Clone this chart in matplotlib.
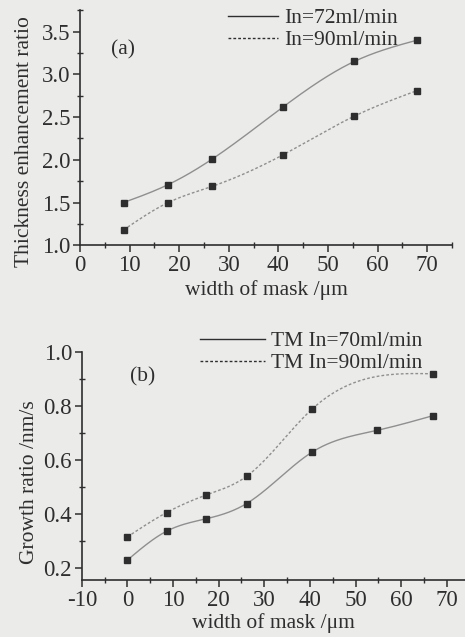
import numpy as np
import matplotlib
matplotlib.use('Agg')
import matplotlib.pyplot as plt
from matplotlib.lines import Line2D
from matplotlib.ticker import MultipleLocator, FormatStrFormatter

# panel (a): thickness enhancement ratio vs mask width
a_x = [8.8, 17.8, 26.7, 41.0, 55.3, 68.0]
a_72 = [1.50, 1.71, 2.01, 2.62, 3.15, 3.40]
a_90 = [1.18, 1.50, 1.69, 2.06, 2.51, 2.81]

# panel (b): growth ratio vs mask width
b_x70 = [0.0, 8.6, 17.3, 26.1, 40.4, 54.6, 67.0]
b_70 = [0.229, 0.336, 0.382, 0.438, 0.628, 0.709, 0.764]
b_x90 = [0.0, 8.6, 17.3, 26.1, 40.4, 67.0]
b_90 = [0.315, 0.405, 0.470, 0.539, 0.787, 0.919]

bg = '#ebebea'
ink = '#2e2e2e'
linec = '#8f8f8f'

plt.rcParams['font.family'] = ['Liberation Serif', 'DejaVu Serif']
plt.rcParams['font.size'] = 15.5
plt.rcParams['axes.unicode_minus'] = False
plt.rcParams['text.color'] = ink
plt.rcParams['axes.labelcolor'] = ink
plt.rcParams['xtick.color'] = ink
plt.rcParams['ytick.color'] = ink
plt.rcParams['xtick.labelsize'] = 16.5
plt.rcParams['ytick.labelsize'] = 16.5


def spline(x, y, n=200):
    # natural cubic spline through the measured points
    x = np.asarray(x, float)
    y = np.asarray(y, float)
    k = len(x)
    h = np.diff(x)
    A = np.zeros((k, k))
    r = np.zeros(k)
    A[0, 0] = A[-1, -1] = 1
    for i in range(1, k - 1):
        A[i, i - 1] = h[i - 1]
        A[i, i] = 2 * (h[i - 1] + h[i])
        A[i, i + 1] = h[i]
        r[i] = 6 * ((y[i + 1] - y[i]) / h[i] - (y[i] - y[i - 1]) / h[i - 1])
    m = np.linalg.solve(A, r)
    xs = np.linspace(x[0], x[-1], n)
    idx = np.clip(np.searchsorted(x, xs) - 1, 0, k - 2)
    t = xs - x[idx]
    hh = h[idx]
    a = (m[idx + 1] - m[idx]) / (6 * hh)
    b = m[idx] / 2
    c = (y[idx + 1] - y[idx]) / hh - hh * (2 * m[idx] + m[idx + 1]) / 6
    return xs, y[idx] + c * t + b * t ** 2 + a * t ** 3


def style(ax):
    ax.set_facecolor(bg)
    for s in ['top', 'right']:
        ax.spines[s].set_visible(False)
    for s in ['left', 'bottom']:
        ax.spines[s].set_color(ink)
        ax.spines[s].set_linewidth(1.2)
    ax.tick_params(which='major', direction='out', length=5, width=1.1, pad=2)
    ax.tick_params(which='minor', direction='inout', length=4, width=1.0)


fig = plt.figure(figsize=(4.65, 6.37), dpi=100)
fig.patch.set_facecolor(bg)
dash = (0, (2, 1.5))

# ---- (a) ----
ax1 = fig.add_axes([0.172, 0.615, 0.80, 0.369])
style(ax1)
xs, ys = spline(a_x, a_72)
ax1.plot(xs, ys, color=linec, lw=1.0)
xs, ys = spline(a_x, a_90)
ax1.plot(xs, ys, color=linec, lw=1.0, ls=dash)
ax1.plot(a_x, a_72, 's', color=ink, ms=4.6)
ax1.plot(a_x, a_90, 's', color=ink, ms=4.6)
ax1.set_xlim(0, 75)
ax1.set_ylim(1.0, 3.75)
ax1.xaxis.set_major_locator(MultipleLocator(10))
ax1.xaxis.set_minor_locator(MultipleLocator(5))
ax1.yaxis.set_major_locator(MultipleLocator(0.5))
ax1.yaxis.set_minor_locator(MultipleLocator(0.25))
ax1.yaxis.set_major_formatter(FormatStrFormatter('%.1f'))
ax1.set_xlabel('width of mask /\u03bcm', labelpad=3)
ax1.set_ylabel('Thickness enhancement ratio')
ax1.yaxis.set_label_coords(-0.123, 0.44)
ax1.text(8.6, 3.29, '(a)', ha='center', va='center')
h1 = [Line2D([], [], color=ink, lw=1.0), Line2D([], [], color=ink, lw=1.0, ls=dash)]
fig.legend(h1, ['In=72ml/min', 'In=90ml/min'], loc='upper left',
           bbox_to_anchor=(228 / 465, 1 - 8 / 637), frameon=False, handlelength=2.3,
           handletextpad=0.3, labelspacing=0.1, borderpad=0, borderaxespad=0)

# ---- (b) ----
ax2 = fig.add_axes([0.176, 0.0895, 0.824, 0.358])
style(ax2)
xs, ys = spline(b_x70, b_70)
ax2.plot(xs, ys, color=linec, lw=1.0)
xs, ys = spline(b_x90, b_90)
ax2.plot(xs, ys, color=linec, lw=1.0, ls=dash)
ax2.plot(b_x70, b_70, 's', color=ink, ms=4.6)
ax2.plot(b_x90, b_90, 's', color=ink, ms=4.6)
ax2.set_xlim(-10, 74)
ax2.set_ylim(0.155, 1.0)
ax2.xaxis.set_major_locator(MultipleLocator(10))
ax2.xaxis.set_minor_locator(MultipleLocator(5))
ax2.yaxis.set_major_locator(MultipleLocator(0.2))
ax2.yaxis.set_minor_locator(MultipleLocator(0.1))
ax2.yaxis.set_major_formatter(FormatStrFormatter('%.1f'))
ax2.set_xlabel('width of mask /\u03bcm', labelpad=2)
ax2.set_ylabel('Growth ratio /nm/s')
ax2.yaxis.set_label_coords(-0.112, 0.43)
ax2.text(3.4, 0.907, '(b)', ha='center', va='center')
h2 = [Line2D([], [], color=ink, lw=1.0), Line2D([], [], color=ink, lw=1.0, ls=dash)]
fig.legend(h2, ['TM In=70ml/min', 'TM In=90ml/min'], loc='upper left',
           bbox_to_anchor=(200 / 465, 1 - 331 / 637), frameon=False, handlelength=3.0,
           handletextpad=0.3, labelspacing=0.1, borderpad=0, borderaxespad=0)

fig.savefig('out.png', dpi=100, facecolor=bg)
